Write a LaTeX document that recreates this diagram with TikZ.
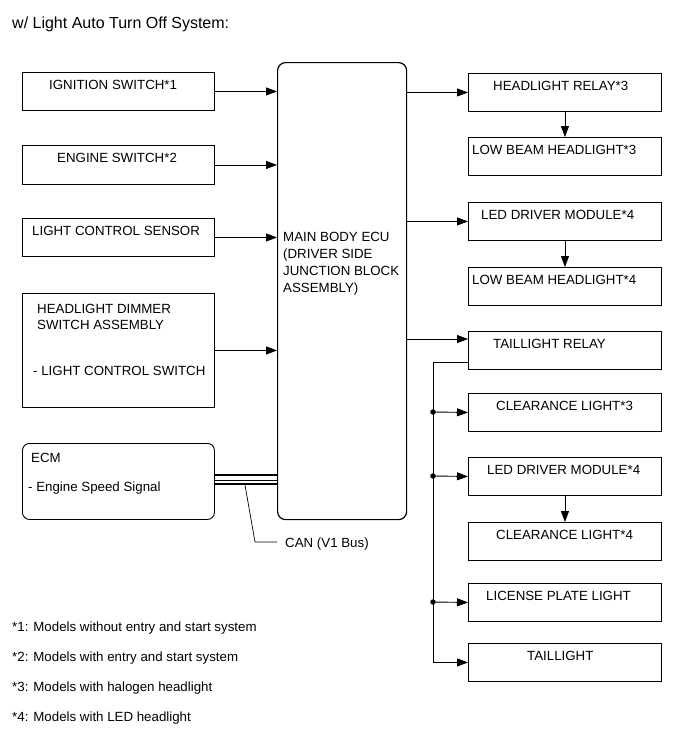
\documentclass[tikz,border=0pt]{standalone}
\usepackage{fontspec}
\setmainfont{Liberation Sans}
\usetikzlibrary{arrows.meta}
\begin{document}
\begin{tikzpicture}[x=1pt,y=-1pt,
  box/.style={draw, line width=0.9pt, inner sep=0pt, anchor=north west, minimum width=192pt, minimum height=38pt},
  rbox/.style={box, minimum width=193pt},
  txt/.style={inner sep=0pt, anchor=base west, font=\fontsize{13.3}{16.6}\selectfont},
  arr/.style={line width=0.9pt, -{Triangle[length=11pt,width=8pt]}},
  ln/.style={line width=0.9pt},
  dot/.style={circle, fill, inner sep=0pt, minimum size=5.5pt}]
\useasboundingbox (0,0) rectangle (690,756);

\node[txt, font=\fontsize{16}{19}\selectfont] (title) at (12,28) {w/ Light Auto Turn Off System:};

% left column
\node[box] (ign) at (22,72) {};
\node[txt] (ignt) at (49,89) {IGNITION SWITCH*1};
\node[box, minimum height=39pt] (eng) at (22,145) {};
\node[txt] (engt) at (57,162) {ENGINE SWITCH*2};
\node[box] (lcs) at (22,218) {};
\node[txt] (lcst) at (32,235) {LIGHT CONTROL SENSOR};
\node[box, minimum height=114pt] (dim) at (22,293) {};
\node[txt] (dimt1) at (37,313) {HEADLIGHT DIMMER};
\node[txt] (dimt2) at (37,329) {SWITCH ASSEMBLY};
\node[txt] (dims) at (33,375) {- LIGHT CONTROL SWITCH};
\node[box, minimum height=76pt, rounded corners=7pt] (ecm) at (22,443) {};
\node[txt] (ecmt) at (31,462) {ECM};
\node[txt] (ecms) at (28,491) {- Engine Speed Signal};

% main ECU
\node[box, line width=1.2pt, rounded corners=8pt, minimum width=129pt, minimum height=457pt] (ecu) at (277,62) {};
\node[txt] (ecut1) at (283,241) {MAIN BODY ECU};
\node[txt] (ecut2) at (283,258) {(DRIVER SIDE};
\node[txt] (ecut3) at (283,275) {JUNCTION BLOCK};
\node[txt] (ecut4) at (283,292) {ASSEMBLY)};

% right column
\node[rbox] (hr) at (468,73) {};
\node[txt] (hrt) at (493,90) {HEADLIGHT RELAY*3};
\node[rbox] (lb3) at (468,137) {};
\node[txt] (lb3t) at (472,154) {LOW BEAM HEADLIGHT*3};
\node[rbox] (led1) at (468,202) {};
\node[txt] (led1t) at (481,219) {LED DRIVER MODULE*4};
\node[rbox] (lb4) at (468,267) {};
\node[txt] (lb4t) at (472,284) {LOW BEAM HEADLIGHT*4};
\node[rbox] (tr) at (468,331) {};
\node[txt] (trt) at (493,348) {TAILLIGHT RELAY};
\node[rbox] (cl3) at (468,393) {};
\node[txt] (cl3t) at (496,410) {CLEARANCE LIGHT*3};
\node[rbox] (led2) at (468,457) {};
\node[txt] (led2t) at (487,474) {LED DRIVER MODULE*4};
\node[rbox] (cl4) at (468,522) {};
\node[txt] (cl4t) at (496,539) {CLEARANCE LIGHT*4};
\node[rbox] (lp) at (468,583) {};
\node[txt] (lpt) at (486,600) {LICENSE PLATE LIGHT};
\node[rbox] (tl) at (468,643) {};
\node[txt] (tlt) at (527,660) {TAILLIGHT};

% inputs to ECU
\draw[arr] (ign.east) -- (ign.east -| ecu.west);
\draw[arr] (eng.east) -- (eng.east -| ecu.west);
\draw[arr] (lcs.east) -- (lcs.east -| ecu.west);
\draw[arr] (dim.east) -- (dim.east -| ecu.west);

% outputs
\draw[arr] (hr.west -| ecu.east) -- (hr.west);
\draw[arr] (led1.west -| ecu.east) -- (led1.west);
\coordinate (trin) at (468,339);
\draw[arr] (trin -| ecu.east) -- (trin);
\draw[arr] (hr.south) -- (lb3.north);
\draw[arr] (led1.south) -- (lb4.north);
\draw[arr] (led2.south) -- (cl4.north);

% taillight bus
\coordinate (trout) at (468,362);
\coordinate (bt) at (433,362);
\draw[ln] (trout) -- (bt);
\draw[arr] (bt) |- (tl.west);
\node[dot] (j1) at (433,412) {};
\node[dot] (j2) at (433,476) {};
\node[dot] (j3) at (433,602) {};
\draw[arr] (j1.center) -- (cl3.west);
\draw[arr] (j2.center) -- (led2.west);
\draw[arr] (j3.center) -- (lp.west);

% CAN
\coordinate (ca1) at (214,475);
\coordinate (ca2) at (214,480);
\coordinate (ca3) at (214,484);
\draw[line width=2.2pt] (ca1) -- (ca1 -| ecu.west);
\draw[line width=1pt] (ca2) -- (ca2 -| ecu.west);
\draw[line width=1.6pt] (ca3) -- (ca3 -| ecu.west);
\coordinate (cana) at (245,485);
\coordinate (canb) at (255,542);
\coordinate (canc) at (277,542);
\draw[line width=0.7pt] (cana) -- (canb) -- (canc);
\node[txt] (canl) at (285,547) {CAN (V1 Bus)};

% footnotes
\node[txt] (f1) at (12,631) {*1: Models without entry and start system};
\node[txt] (f2) at (12,661) {*2: Models with entry and start system};
\node[txt] (f3) at (12,691) {*3: Models with halogen headlight};
\node[txt] (f4) at (12,721) {*4: Models with LED headlight};
\end{tikzpicture}
\end{document}
